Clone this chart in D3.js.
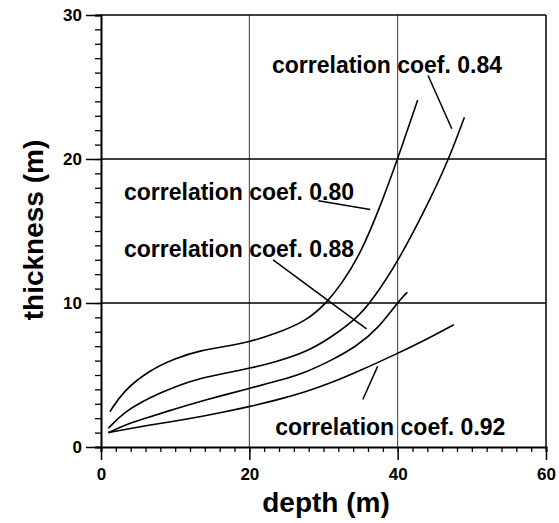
<!DOCTYPE html>
<html>
<head>
<meta charset="utf-8">
<script src="https://cdn.jsdelivr.net/npm/d3@7"></script>
<style>
  body { margin: 0; background: #fff; }
  text { font-family: "Liberation Sans", Arial, sans-serif; font-weight: bold; fill: #000; }
</style>
</head>
<body>
<svg id="chart" width="559" height="523"></svg>
<script>
// data: [depth, thickness]
var coef080 = [[1.2,2.45],[3,3.9],[6.6,5.35],[10,6.15],[13.3,6.7],[17,7.0],[20,7.3],[23.5,7.85],[27.7,8.75],[30.4,10],[32.4,11.3],[35,13.4],[37.8,16.9],[40,20],[42.7,24.1]];
var coef084 = [[1,1.3],[3,2.4],[6.6,3.45],[10,4.2],[13.3,4.77],[17,5.15],[20,5.46],[23.5,5.9],[27.7,6.6],[31,7.6],[34.5,8.95],[36.3,10],[40,12.8],[44.4,17.2],[46.9,20],[49,22.9]];
var coef088 = [[1,1.0],[3.5,1.6],[6.6,2.1],[10,2.65],[13.3,3.15],[16.5,3.6],[20,4.07],[24,4.6],[27.7,5.2],[31,6.0],[34.5,7.0],[37.5,8.3],[40,10.05],[41.3,10.75]];
var coef092 = [[1,1.0],[3.5,1.25],[6.6,1.53],[10,1.8],[13.3,2.1],[16.5,2.42],[20,2.8],[24,3.3],[27.7,3.84],[31,4.45],[34.5,5.2],[40,6.5],[44,7.5],[47.6,8.5]];

var xTicks = [0, 20, 40, 60];
var yTicks = [0, 10, 20, 30];
var xGrid = [20, 40];
var yGrid = [10, 20];

// labels: text, text anchor [depth, thickness], leader from / to
var labels = [
  { text: "correlation coef. 0.84", at: [23.05, 26.0], from: [44.1, 25.8], to: [47.3, 22.1] },
  { text: "correlation coef. 0.80", at: [3.1, 17.15], from: [29.3, 17.1], to: [36.3, 16.5] },
  { text: "correlation coef. 0.88", at: [3.1, 13.2], from: [23.2, 13.0], to: [35.8, 8.2] },
  { text: "correlation coef. 0.92", at: [23.5, 0.83], from: [37.3, 5.6], to: [35.3, 3.3] }
];

var svg = d3.select("#chart");

var x = d3.scaleLinear().domain([0, 60]).range([101, 546]);
var y = d3.scaleLinear().domain([0, 30]).range([447, 15]);

// grid
svg.selectAll(".vgrid").data(xGrid).enter().append("line")
  .attr("x1", d => x(d)).attr("x2", d => x(d))
  .attr("y1", y(30)).attr("y2", y(0))
  .attr("stroke", "#222").attr("stroke-width", 0.9);

svg.selectAll(".hgrid").data(yGrid).enter().append("line")
  .attr("x1", x(0)).attr("x2", x(60))
  .attr("y1", d => y(d)).attr("y2", d => y(d))
  .attr("stroke", "#000").attr("stroke-width", 1.5);

// frame top and right
svg.append("line").attr("x1", x(0)).attr("x2", x(60)).attr("y1", y(30)).attr("y2", y(30))
  .attr("stroke", "#000").attr("stroke-width", 1.5);
svg.append("line").attr("x1", x(60)).attr("x2", x(60)).attr("y1", y(30)).attr("y2", y(0))
  .attr("stroke", "#000").attr("stroke-width", 1.5);

// x axis
var xAxis = svg.append("g").attr("transform", "translate(0," + y(0) + ")")
  .call(d3.axisBottom(x).tickValues(d3.range(0, 61, 2)).tickSize(5).tickFormat(""));
xAxis.select(".domain").attr("stroke-width", 2);
xAxis.selectAll(".tick line").attr("stroke-width", 1.3);
var xMajor = svg.append("g").attr("transform", "translate(0," + y(0) + ")")
  .call(d3.axisBottom(x).tickValues(xTicks).tickSize(13).tickPadding(8));
xMajor.select(".domain").remove();
xMajor.selectAll(".tick line").attr("stroke-width", 1.5);
xMajor.selectAll("text").style("font-size", "17px").style("font-family", "Liberation Sans, Arial, sans-serif").style("font-weight", "bold");

// y axis
var yAxis = svg.append("g").attr("transform", "translate(" + x(0) + ",0)")
  .call(d3.axisLeft(y).tickValues(d3.range(0, 31, 1)).tickSize(6).tickFormat(""));
yAxis.select(".domain").attr("stroke-width", 2);
yAxis.selectAll(".tick line").attr("stroke-width", 1.3);
var yMajor = svg.append("g").attr("transform", "translate(" + x(0) + ",0)")
  .call(d3.axisLeft(y).tickValues(yTicks).tickSize(15).tickPadding(4));
yMajor.select(".domain").remove();
yMajor.selectAll(".tick line").attr("stroke-width", 1.5);
yMajor.selectAll("text").style("font-size", "17px").style("font-family", "Liberation Sans, Arial, sans-serif").style("font-weight", "bold");

// curves
var line = d3.line().x(d => x(d[0])).y(d => y(d[1])).curve(d3.curveBasis);
[coef080, coef084, coef088, coef092].forEach(function(s) {
  svg.append("path").datum(s).attr("d", line)
    .attr("fill", "none").attr("stroke", "#000").attr("stroke-width", 1.6);
});

// labels and leaders
labels.forEach(function(l) {
  svg.append("line")
    .attr("x1", x(l.from[0])).attr("y1", y(l.from[1]))
    .attr("x2", x(l.to[0])).attr("y2", y(l.to[1]))
    .attr("stroke", "#000").attr("stroke-width", 1.5);
  svg.append("text").attr("x", x(l.at[0])).attr("y", y(l.at[1]))
    .style("font-size", "23px").text(l.text);
});

// axis titles
svg.append("text").attr("x", 326).attr("y", 512).attr("text-anchor", "middle")
  .style("font-size", "28px").text("depth (m)");
svg.append("text").attr("transform", "translate(43,230) rotate(-90)").attr("text-anchor", "middle")
  .style("font-size", "28px").text("thickness (m)");
</script>
</body>
</html>
